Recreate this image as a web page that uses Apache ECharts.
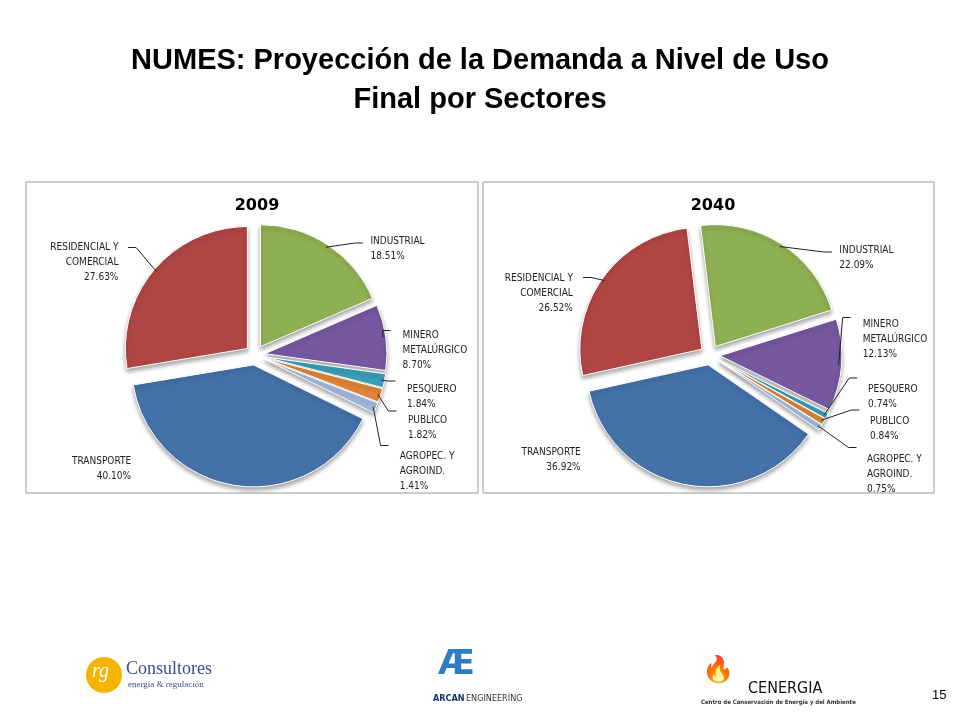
<!DOCTYPE html>
<html><head><meta charset="utf-8">
<script src="https://cdn.jsdelivr.net/npm/echarts@6/dist/echarts.min.js"></script>
<style>html,body{margin:0;padding:0;background:#fff}#c{width:960px;height:720px}</style>
</head><body><div id="c"></div>
<script>
const categories = ['INDUSTRIAL','MINERO\nMETALÚRGICO','PESQUERO','PUBLICO','AGROPEC. Y\nAGROIND.','TRANSPORTE','RESIDENCIAL Y\nCOMERCIAL'];
const values2009 = [18.51, 8.70, 1.84, 1.82, 1.41, 40.10, 27.63];
const values2040 = [22.09, 12.13, 0.74, 0.84, 0.75, 36.92, 26.52];
const colors = ['#8fb052','#7658a0','#3a9fb8','#e08535','#a4b9da','#4472a8','#b04644'];
const labelPos2009 = [[392,250],[425,345],[422,388],[418,418],[418,460],[103,452],[92,262]];
const labelPos2040 = [[861,259],[885,332],[884,385],[881,417],[886,462],[553,443],[547,292]];
const noLine = ['TRANSPORTE'];

const R = 122, OFF = 10, CY = 355, DYFIX = 7;
const FONT = '10px "DejaVu Sans Condensed"';
const ctx = document.createElement('canvas').getContext('2d'); ctx.font = FONT;
function halfW(name){ return Math.max(...name.split('\n').map(s=>ctx.measureText(s).width))/2; }

function mkData(vals){
  return categories.map((n,i)=>({name:n,value:vals[i],selected:true,itemStyle:{color:colors[i]}}));
}
function leaderLines(vals, cx, start, pos){
  const total = vals.reduce((a,b)=>a+b,0); let cum = 0; const out=[];
  vals.forEach((v,i)=>{
    const mid = (start - (cum + v/2)/total*360)*Math.PI/180; cum += v;
    if (noLine.includes(categories[i])) return;
    const ox = cx + OFF*Math.cos(mid), oy = CY - OFF*Math.sin(mid);
    const sx = ox + (R-3)*Math.cos(mid), sy = oy - (R-3)*Math.sin(mid);
    const t = pos[i], hw = halfW(categories[i]);
    const right = t[0] > cx;
    const lines = categories[i].split('\n').length + 1;
    const ex = right ? t[0]-hw-2 : t[0]+hw+2, ey = t[1] - lines*7.5 + 8;
    const kx = right ? ex-8 : ex+8;
    out.push({type:'polyline',silent:true,shape:{points:[[sx,sy],[kx,ey],[ex,ey]]},style:{stroke:'#222',lineWidth:1,fill:null},z:10});
  });
  return out;
}
function series(vals, cx, start, pos){
  return {type:'pie', center:[cx,CY], radius:[0,R], startAngle:start, clockwise:true,
    selectedMode:'multiple', selectedOffset:OFF, avoidLabelOverlap:false,
    data:mkData(vals),
    itemStyle:{borderColor:'#fff',borderWidth:1,shadowBlur:4,shadowColor:'rgba(0,0,0,0.35)',shadowOffsetY:3},
    label:{formatter:p=>p.name+'\n'+p.value.toFixed(2)+'%', fontFamily:'DejaVu Sans Condensed', fontSize:10, color:'#222', lineHeight:15, align:'center'},
    labelLine:{show:false},
    labelLayout:p=>{const r=p.labelRect;const t=pos[p.dataIndex];
      return {dx:t[0]-(r.x+r.width/2), dy:t[1]+DYFIX-(r.y+r.height/2)};},
    emphasis:{disabled:true}
  };
}
const chart = echarts.init(document.getElementById('c'));
chart.setOption({
  animation:false,
  title:[
    {text:'NUMES: Proyección de la Demanda a Nivel de Uso\nFinal por Sectores', left:'center', top:36,
     textStyle:{fontFamily:'Liberation Sans, Arial',fontWeight:'bold',fontSize:29,lineHeight:39,color:'#000'}},
    {text:'2009', left:252, top:193, textAlign:'center', textStyle:{fontFamily:'DejaVu Sans',fontWeight:'bold',fontSize:16,color:'#000'}},
    {text:'2040', left:708, top:193, textAlign:'center', textStyle:{fontFamily:'DejaVu Sans',fontWeight:'bold',fontSize:16,color:'#000'}}
  ],
  graphic:[
    {type:'rect',shape:{x:26,y:182,width:452,height:311},style:{fill:'none',stroke:'#999',lineWidth:1}},
    {type:'rect',shape:{x:483,y:182,width:451,height:311},style:{fill:'none',stroke:'#999',lineWidth:1}},
    {type:'circle',shape:{cx:104,cy:675,r:18},style:{fill:'#f5b400'}},
    {type:'text',x:92,y:662,style:{text:'rg',fill:'#fff',font:'italic 20px Liberation Serif'}},
    {type:'text',x:126,y:660,style:{text:'Consultores',fill:'#3a4f8f',font:'18px Liberation Serif'}},
    {type:'text',x:128,y:680,style:{text:'energía & regulación',fill:'#3a4f8f',font:'9px Liberation Serif'}},
    {type:'text',x:438,y:648,style:{text:'Æ',fill:'#2d7dc4',font:'bold 34px DejaVu Sans'}},
    {type:'text',x:433,y:694,style:{text:'ARCAN',fill:'#1d2f66',font:'bold 9px DejaVu Sans Condensed'}},
    {type:'text',x:466,y:694,style:{text:'ENGINEERING',fill:'#333',font:'9px DejaVu Sans Condensed'}},
    {type:'text',x:702,y:658,style:{text:'🔥',fill:'#e8601c',font:'26px DejaVu Sans'}},
    {type:'text',x:748,y:681,style:{text:'CENERGIA',fill:'#111',font:'16px DejaVu Sans Condensed'}},
    {type:'text',x:701,y:699,style:{text:'Centro de Conservación de Energía y del Ambiente',fill:'#333',font:'bold 6px DejaVu Sans Condensed'}},
    {type:'text',x:932,y:689,style:{text:'15',fill:'#000',font:'13px Liberation Sans'}}
  ].concat(leaderLines(values2009,255,90,labelPos2009), leaderLines(values2040,710,97,labelPos2040)),
  series:[series(values2009,255,90,labelPos2009), series(values2040,710,97,labelPos2040)]
});
</script></body></html>
